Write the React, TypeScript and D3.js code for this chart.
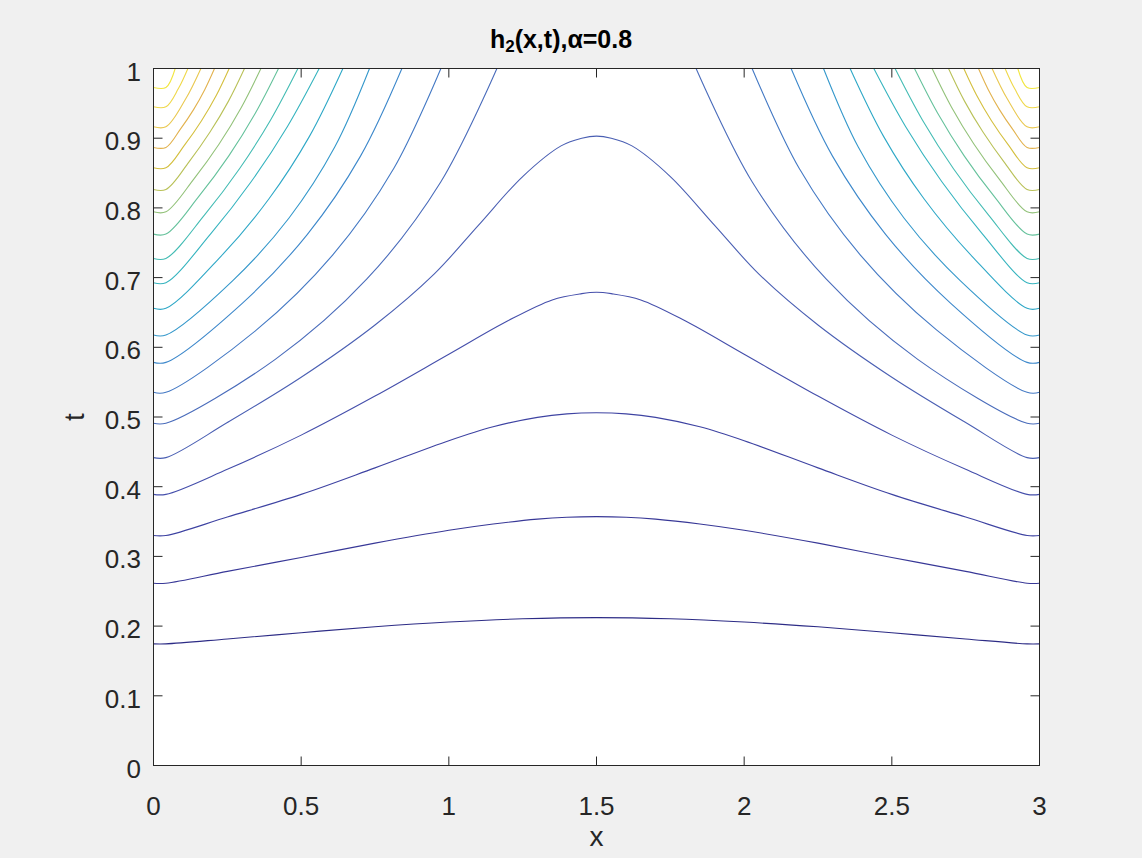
import React from 'react';
import * as d3 from 'd3';

const W = 1142;
const H = 858;

const xTicks = [0, 0.5, 1, 1.5, 2, 2.5, 3];
const xTickLabels = ['0', '0.5', '1', '1.5', '2', '2.5', '3'];
const tTicks = [0, 0.1, 0.2, 0.3, 0.4, 0.5, 0.6, 0.7, 0.8, 0.9, 1];
const tTickLabels = ['0', '0.1', '0.2', '0.3', '0.4', '0.5', '0.6', '0.7', '0.8', '0.9', '1'];

// Contour lines, left half (the field is symmetric about x = 1.5).
// Index 0 = highest level (top-left corner), index 19 = lowest level.
// Corner contours: from the left edge up to t = 1.
const c00 = [[0, 0.9727], [0.042, 0.9727], [0.0735, 1]];
const c01 = [[0, 0.945], [0.042, 0.945], [0.0843, 0.9712], [0.1165, 1]];
const c02 = [[0, 0.9163], [0.042, 0.9163], [0.1092, 0.9565], [0.1605, 1]];
const c03 = [[0, 0.8867], [0.042, 0.8867], [0.0911, 0.913], [0.1351, 0.9406], [0.1734, 0.9696], [0.2066, 1]];
const c04 = [[0, 0.8575], [0.042, 0.8575], [0.1056, 0.8904], [0.1626, 0.9251], [0.2129, 0.9616], [0.2563, 1]];
const c05 = [[0, 0.8265], [0.042, 0.8265], [0.1209, 0.8665], [0.1914, 0.9088], [0.2539, 0.9532], [0.3081, 1]];
const c06 = [[0, 0.7944], [0.042, 0.7944], [0.137, 0.8417], [0.2222, 0.8917], [0.2978, 0.9445], [0.3637, 1]];
const c07 = [[0, 0.7624], [0.042, 0.7624], [0.1541, 0.8169], [0.255, 0.8747], [0.3447, 0.9358], [0.4233, 1]];
const c08 = [[0, 0.7275], [0.042, 0.7275], [0.173, 0.79], [0.2912, 0.8562], [0.3965, 0.9262], [0.489, 1]];
const c09 = [[0, 0.6926], [0.042, 0.6926], [0.1935, 0.7628], [0.3306, 0.8375], [0.4531, 0.9165], [0.561, 1]];
const c10 = [[0, 0.6559], [0.042, 0.6559], [0.2284, 0.7305], [0.3905, 0.8127], [0.528, 0.9026], [0.6413, 1]];
const c11 = [[0, 0.6176], [0.042, 0.6176], [0.2685, 0.6957], [0.4589, 0.7855], [0.6132, 0.8869], [0.7314, 1]];
const c12 = [[0, 0.5784], [0.042, 0.5784], [0.3014, 0.6635], [0.5211, 0.7621], [0.7009, 0.8743], [0.8411, 1]];
const c13 = [[0, 0.5354], [0.042, 0.5354], [0.3488, 0.6249], [0.6064, 0.7322], [0.8144, 0.8572], [0.9731, 1]];
const c14 = [[0, 0.491], [0.042, 0.491], [0.4123, 0.5827], [0.7226, 0.698], [0.9726, 0.8372], [1.1628, 1]];
// Hump contours: from the left edge to the peak at x = 1.5.
const c15 = [[0, 0.4417], [0.042, 0.4417], [0.25, 0.492], [0.5, 0.557], [0.75, 0.632], [0.95, 0.705], [1.1, 0.775], [1.25, 0.845], [1.38, 0.889], [1.45, 0.9], [1.5, 0.903]];
const c16 = [[0, 0.389], [0.042, 0.389], [0.25, 0.425], [0.5, 0.474], [0.75, 0.53], [1.0, 0.59], [1.2, 0.638], [1.35, 0.668], [1.45, 0.677], [1.5, 0.679]];
const c17 = [[0, 0.33], [0.042, 0.33], [0.25, 0.3565], [0.5, 0.389], [0.75, 0.427], [1.0, 0.466], [1.15, 0.486], [1.3, 0.4995], [1.4, 0.5045], [1.5, 0.506]];
const c18 = [[0, 0.2615], [0.042, 0.2615], [0.25, 0.2785], [0.5, 0.2985], [0.75, 0.319], [1.0, 0.3375], [1.15, 0.3465], [1.3, 0.3535], [1.4, 0.3562], [1.5, 0.357]];
const c19 = [[0, 0.1745], [0.042, 0.1745], [0.25, 0.1815], [0.5, 0.1905], [0.75, 0.199], [1.0, 0.2058], [1.25, 0.2105], [1.5, 0.2122]];

const cornerContours = [c00, c01, c02, c03, c04, c05, c06, c07, c08, c09, c10, c11, c12, c13, c14];
const humpContours = [c15, c16, c17, c18, c19];

// Line colour of each contour level as seen in the picture (parula-like, index 0 = highest level)
const levelColors = [
  '#f2e640', '#efd84a', '#e9c850', '#e2b24e', '#d4bf3e', '#b9c158', '#93c27a', '#66c29c', '#44bcb4', '#36b4bf',
  '#2fa8c7', '#3598cb', '#3d88cb', '#4479c4', '#4a6cbb', '#4a5fb3', '#454fab', '#3e43a2', '#383897', '#2d2c86',
];

const FONT = "'Liberation Sans', Arial, Helvetica, sans-serif";
const INK = '#262626';

export default function App() {
  const x = d3.scaleLinear().domain([0, 3]).range([153.5, 1039.5]);
  const y = d3.scaleLinear().domain([0, 1]).range([765.5, 68.5]);
  const line = d3
    .line<number[]>()
    .x((d) => x(d[0]))
    .y((d) => y(d[1]))
    .curve(d3.curveCatmullRom.alpha(0.5));
  const mirror = (pts: number[][]) => pts.map(([a, b]) => [3 - a, b]);

  const paths: { d: string; c: string }[] = [];
  cornerContours.forEach((pts, k) => {
    paths.push({ d: line(pts) as string, c: levelColors[k] });
    paths.push({ d: line(mirror(pts)) as string, c: levelColors[k] });
  });
  humpContours.forEach((pts, i) => {
    const k = cornerContours.length + i;
    const full = [...pts, ...mirror(pts.slice(0, -1)).reverse()];
    paths.push({ d: line(full) as string, c: levelColors[k] });
  });

  const [x0, x1] = x.range();
  const [y0, y1] = y.range();
  const tickLen = 9;

  return (
    <svg width={W} height={H} style={{ position: 'absolute', left: 0, top: 0, display: 'block' }}>
      <rect x={0} y={0} width={W} height={H} fill="#f0f0f0" />
      <defs>
        <clipPath id="plotClip">
          <rect x={x0} y={y1} width={x1 - x0} height={y0 - y1} />
        </clipPath>
      </defs>
      <rect x={x0} y={y1} width={x1 - x0} height={y0 - y1} fill="#ffffff" />
      <g clipPath="url(#plotClip)" fill="none" strokeWidth={1.1} strokeLinejoin="round">
        {paths.map((p, i) => (
          <path key={i} d={p.d} stroke={p.c} />
        ))}
      </g>
      <rect x={x0} y={y1} width={x1 - x0} height={y0 - y1} fill="none" stroke={INK} strokeWidth={1} />
      {xTicks.map((v, i) => (
        <g key={'xt' + i}>
          <line x1={x(v)} x2={x(v)} y1={y0} y2={y0 - tickLen} stroke={INK} />
          <line x1={x(v)} x2={x(v)} y1={y1} y2={y1 + tickLen} stroke={INK} />
          <text x={x(v)} y={815} textAnchor="middle" fontFamily={FONT} fontSize={26} fill={INK}>
            {xTickLabels[i]}
          </text>
        </g>
      ))}
      {tTicks.map((v, i) => (
        <g key={'yt' + i}>
          <line x1={x0} x2={x0 + tickLen} y1={y(v)} y2={y(v)} stroke={INK} />
          <line x1={x1} x2={x1 - tickLen} y1={y(v)} y2={y(v)} stroke={INK} />
          <text x={141} y={y(v) + 12} textAnchor="end" fontFamily={FONT} fontSize={26} fill={INK}>
            {tTickLabels[i]}
          </text>
        </g>
      ))}
      <text x={(x0 + x1) / 2} y={846} textAnchor="middle" fontFamily={FONT} fontSize={28} fill={INK}>
        x
      </text>
      <text
        transform={`translate(84, ${(y0 + y1) / 2}) rotate(-90)`}
        textAnchor="middle"
        fontFamily={FONT}
        fontSize={28}
        fill={INK}
      >
        t
      </text>
      <text x={561} y={48} textAnchor="middle" fontFamily={FONT} fontSize={25} fontWeight="bold" fill="#000">
        h<tspan fontSize={17} dy={4}>2</tspan>
        <tspan dy={-4}>(x,t),α=0.8</tspan>
      </text>
    </svg>
  );
}
